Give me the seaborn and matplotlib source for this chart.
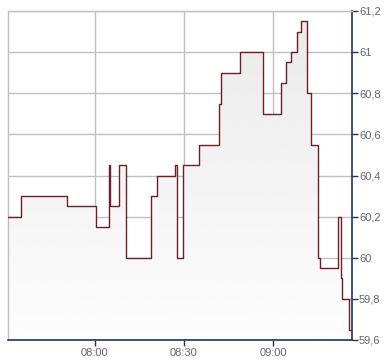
import matplotlib
matplotlib.use("Agg")
import matplotlib.pyplot as plt
import numpy as np
import pandas as pd
import seaborn as sns

# minutes after midnight (step start times) and price values
times = [450.9, 455.2, 470.7, 480.4, 484.8, 485.1, 488.1, 490.7, 499.1, 501.1,
         506.9, 507.8, 509.8, 515.2, 521.7, 522.6, 528.8, 536.7, 542.5, 544.2,
         546.1, 548.1, 549.5, 551.5, 552.8, 555.2, 555.6, 561.9, 562.8, 563.2,
         565.6, 566.5]
values = [60.2, 60.3, 60.25, 60.15, 60.45, 60.25, 60.45, 60.0, 60.3, 60.4,
          60.45, 60.0, 60.45, 60.55, 60.75, 60.9, 61.0, 60.7, 60.85, 60.95,
          61.0, 61.1, 61.15, 60.8, 60.55, 60.0, 59.95, 60.2, 59.9, 59.8,
          59.65, 59.65]
x_ticks = [480, 510, 540]
x_labels = ["08:00", "08:30", "09:00"]
y_ticks = [59.6, 59.8, 60.0, 60.2, 60.4, 60.6, 60.8, 61.0, 61.2]
y_labels = ["59,6", "59,8", "60", "60,2", "60,4", "60,6", "60,8", "61", "61,2"]

df = pd.DataFrame({"t": times, "v": values})

sns.set_style("white")
plt.rcParams["font.family"] = ["Liberation Sans", "DejaVu Sans"]

fig = plt.figure(figsize=(3.9, 3.64), dpi=100)
ax = fig.add_axes([8/390, 24/364, 344/390, 329/364])

xmin, xmax = times[0], times[-1]
ymin, ymax = y_ticks[0], y_ticks[-1]
ax.set_xlim(xmin, xmax)
ax.set_ylim(ymin, ymax)

# gradient fill under the step line
poly = ax.fill_between(df["t"], df["v"], ymin, step="post", color="none", lw=0)
grad = np.linspace(0.99, 0.915, 256).reshape(-1, 1)
img = ax.imshow(grad, extent=[xmin, xmax, ymin, ymax], aspect="auto", origin="lower",
                cmap="gray", vmin=0, vmax=1, zorder=1)
path = poly.get_paths()[0]
img.set_clip_path(path, transform=ax.transData)

sns.lineplot(data=df, x="t", y="v", ax=ax, drawstyle="steps-post",
             color="#6b2026", lw=1.0, zorder=3, estimator=None)

ax.set_xticks(x_ticks)
ax.set_xticklabels(x_labels)
ax.set_yticks(y_ticks)
ax.set_yticklabels(y_labels)
ax.yaxis.tick_right()
ax.grid(True, color="#c0c0c0", lw=1.0, zorder=0)
ax.set_axisbelow(True)
ax.set_xlabel("")
ax.set_ylabel("")

for s in ["left", "top"]:
    ax.spines[s].set_color("#c0c0c0")
    ax.spines[s].set_linewidth(1.0)
for s in ["right", "bottom"]:
    ax.spines[s].set_color("#1c3563")
    ax.spines[s].set_linewidth(1.2)

ax.tick_params(axis="y", right=True, left=False, length=4, width=1, color="#1c3563",
               labelsize=8, labelcolor="#666666", pad=1)
ax.tick_params(axis="x", bottom=True, length=4, width=1, color="#1c3563",
               labelsize=8, labelcolor="#666666", pad=2)

fig.savefig("out.png", dpi=100)
